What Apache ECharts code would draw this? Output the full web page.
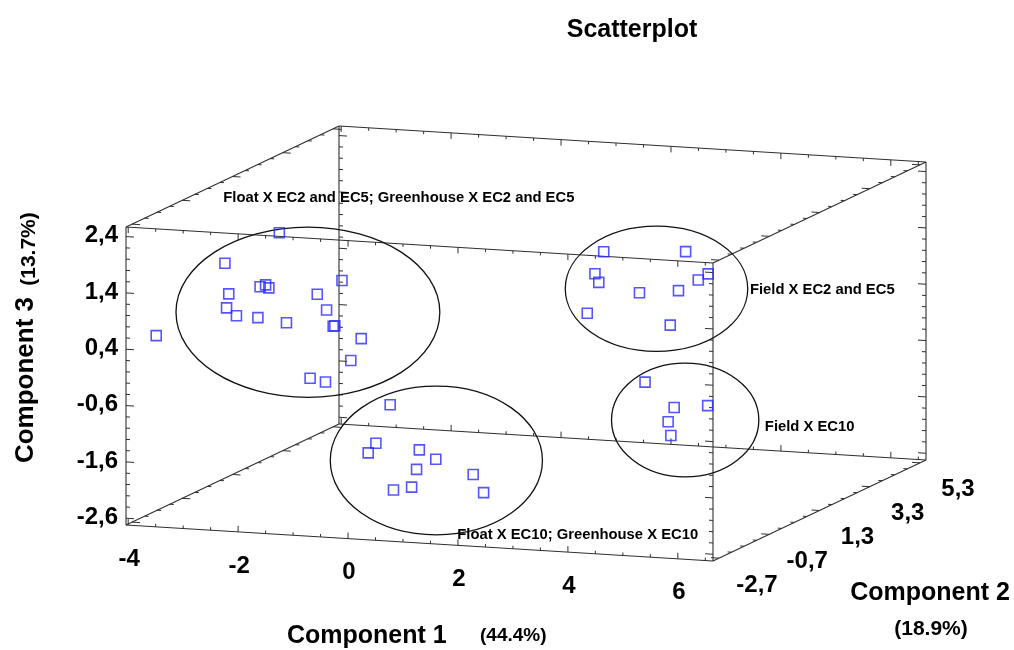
<!DOCTYPE html>
<html>
<head>
<meta charset="utf-8">
<script src="https://cdn.jsdelivr.net/npm/echarts@6/dist/echarts.min.js"></script>
<style>html,body{margin:0;padding:0;background:#fff}#chart{width:1014px;height:650px}</style>
</head>
<body>
<div id="chart"></div>
<script>
// ================= DATA =================
// axis ranges (box extent) and tick labels
const comp1Range = [-4.04, 6.64];
const comp2Range = [-2.94, 5.54];
const comp3Range = [-2.72, 2.57];
const comp1Ticks = [-4, -2, 0, 2, 4, 6];
const comp2Ticks = [-2.7, -0.7, 1.3, 3.3, 5.3];
const comp3Ticks = [-2.6, -1.6, -0.6, 0.4, 1.4, 2.4];
const comp1Step = [2, 0.5];   // major, minor
const comp2Step = [2, 0.5];
const comp3Step = [1, 0.2];

// points: [Component 1, Component 2, Component 3]
const floatGreenhouseEC2EC5 = [
  [-1.68, -2.0, 2.41], [-2.67, -2.0, 1.81], [-2.60, -2.0, 1.27], [-2.03, -2.0, 1.43],
  [-1.93, -2.0, 1.47], [-1.87, -2.0, 1.42], [-2.64, -2.0, 1.02], [-2.46, -2.0, 0.89],
  [-2.07, -2.0, 0.88], [-1.55, -2.0, 0.82], [-0.99, -2.0, 1.36], [-0.82, -2.0, 1.09],
  [-0.70, -2.0, 0.81], [-0.67, -2.0, 0.82], [-0.54, -2.0, 1.63], [-0.19, -2.0, 0.62],
  [-0.38, -2.0, 0.22], [-1.12, -2.0, -0.14], [-0.84, -2.0, -0.19], [-3.92, -2.0, 0.45]
];
const floatGreenhouseEC10 = [
  [-0.12, -1.0, -0.76], [-0.38, -1.0, -1.46], [-0.52, -1.0, -1.64], [0.41, -1.0, -1.53],
  [0.71, -1.0, -1.68], [0.36, -1.0, -1.88], [0.27, -1.0, -2.20], [-0.06, -1.0, -2.27],
  [1.39, -1.0, -1.91], [1.58, -1.0, -2.22]
];
const fieldEC2EC5 = [
  [3.08, 0.5, 1.83], [4.57, 0.5, 1.92], [2.92, 0.5, 1.43], [2.99, 0.5, 1.28],
  [3.73, 0.5, 1.14], [4.44, 0.5, 1.22], [4.80, 0.5, 1.43], [4.98, 0.5, 1.55],
  [2.78, 0.5, 0.72], [4.29, 0.5, 0.60]
];
const fieldEC10 = [
  [4.06, 0.0, -0.32], [4.59, 0.0, -0.74], [5.20, 0.0, -0.67], [4.48, 0.0, -1.00],
  [4.53, 0.0, -1.24]
];

// cluster ellipses: [c1, c2, c3, half-width in Component 1 units, half-height in Component 3 units]
const clusterEllipses = [
  [-1.16, -2.0, 1.03, 2.40, 1.51],
  [4.04, 0.5, 1.23, 1.66, 1.11],
  [4.79, 0.0, -0.95, 1.34, 1.01],
  [0.72, -1.0, -1.70, 1.93, 1.32]
];
const clusterNames = [
  'Float X EC2 and EC5; Greenhouse X EC2 and EC5',
  'Field X EC2 and EC5',
  'Field X EC10',
  'Float X EC10; Greenhouse X EC10'
];
const clusterLabelAnchors = [
  [-2.70, -2.0, 2.97],
  [5.74, 0.5, 1.31],
  [6.24, 0.0, -0.99],
  [1.10, -1.0, -3.00]
];

// ================= PROJECTION (oblique box) =================
const VEC = { c1: [587, -36], c2: [213, 101], c3: [0, 298], origin: [0, 36] };
const PLANE = { w: 800, h: 436 };
function norm(v, r) { return (v - r[0]) / (r[1] - r[0]); }
function project(c1, c2, c3) {
  const a = norm(c1, comp1Range), b = norm(c2, comp2Range), c = norm(c3, comp3Range);
  return [
    VEC.origin[0] + VEC.c1[0] * a + VEC.c2[0] * b + VEC.c3[0] * c,
    VEC.origin[1] + VEC.c1[1] * a + VEC.c2[1] * b + VEC.c3[1] * c
  ];
}
const P = p => project(p[0], p[1], p[2]);

// box edges
const R = [comp1Range, comp2Range, comp3Range];
const edges = [];
for (let axis = 0; axis < 3; axis++) {
  const o = [0, 1, 2].filter(k => k !== axis);
  for (let i = 0; i < 2; i++) for (let j = 0; j < 2; j++) {
    const s = [0, 0, 0], e = [0, 0, 0];
    s[axis] = R[axis][0]; e[axis] = R[axis][1];
    s[o[0]] = e[o[0]] = R[o[0]][i];
    s[o[1]] = e[o[1]] = R[o[1]][j];
    edges.push(P(s).concat(P(e)));
  }
}

// tick marks
function unit(v) { const l = Math.hypot(v[0], v[1]); return [v[0] / l, v[1] / l]; }
function tickValues(range, base, major, minor) {
  const out = [];
  let t = base + Math.ceil((range[0] - base) / minor - 1e-9) * minor;
  for (; t <= range[1] + 1e-9; t += minor) {
    const q = (t - base) / major;
    out.push([t, Math.abs(q - Math.round(q)) < 1e-6]);
  }
  return out;
}
const tickSegs = [];
const u1 = unit(VEC.c1), u3 = unit(VEC.c3);
tickValues(comp3Range, comp3Ticks[0], comp3Step[0], comp3Step[1]).forEach(([t, maj]) => {
  const len = maj ? 8 : 4;
  [0, 1].forEach(i => [0, 1].forEach(j => {
    const p = project(comp1Range[i], comp2Range[j], t);
    const d = i === 0 ? 1 : -1;
    tickSegs.push([p[0], p[1], p[0] + d * u1[0] * len, p[1] + d * u1[1] * len]);
  }));
});
tickValues(comp2Range, comp2Ticks[0], comp2Step[0], comp2Step[1]).forEach(([t, maj]) => {
  const len = maj ? 8 : 4;
  [0, 1].forEach(i => [0, 1].forEach(j => {
    const p = project(comp1Range[i], t, comp3Range[j]);
    const d = i === 0 ? 1 : -1;
    tickSegs.push([p[0], p[1], p[0] + d * u1[0] * len, p[1] + d * u1[1] * len]);
  }));
});
tickValues(comp1Range, comp1Ticks[0], comp1Step[0], comp1Step[1]).forEach(([t, maj]) => {
  const len = maj ? 6 : 3;
  [0, 1].forEach(i => [0, 1].forEach(j => {
    const p = project(t, comp2Range[i], comp3Range[j]);
    const d = j === 0 ? 1 : -1;
    tickSegs.push([p[0], p[1], p[0] + d * u3[0] * len, p[1] + d * u3[1] * len]);
  }));
});

// ================= CHART =================
const FONT = "'Liberation Sans', Arial, sans-serif";
const comma = v => v.toFixed(1).replace('.', ',');
const segSeries = (data, color, width, z) => ({
  type: 'custom', data, z, silent: true,
  encode: { x: [0, 2], y: [1, 3] },
  renderItem: (params, api) => {
    const a = api.coord([api.value(0), api.value(1)]);
    const b = api.coord([api.value(2), api.value(3)]);
    return { type: 'line', shape: { x1: a[0], y1: a[1], x2: b[0], y2: b[1] },
      style: { stroke: color, lineWidth: width } };
  }
});
// text labels anchored to projected data positions
const textSeries = (anchors, texts, font, align, offset) => ({
  type: 'custom', z: 6, silent: true,
  data: anchors,
  renderItem: (params, api) => {
    const c = api.coord([api.value(0), api.value(1)]);
    return { type: 'text', x: c[0] + offset[0], y: c[1] + offset[1],
      style: { text: texts[params.dataIndex], font: font, fill: '#000', align: align, verticalAlign: 'middle' } };
  }
});
const pointSeries = (name, arr) => ({
  name, type: 'scatter', data: arr.map(P), symbol: 'rect', symbolSize: 10, z: 5,
  itemStyle: { color: 'rgba(0,0,0,0)', borderColor: '#2a2aff', borderWidth: 1.6 }
});
const unitC1 = VEC.c1[0] / (comp1Range[1] - comp1Range[0]);
const unitC3 = VEC.c3[1] / (comp3Range[1] - comp3Range[0]);

const option = {
  animation: false,
  grid: { left: 126, top: 125, width: PLANE.w, height: PLANE.h, containLabel: false },
  xAxis: { type: 'value', min: 0, max: PLANE.w, show: false },
  yAxis: { type: 'value', min: 0, max: PLANE.h, show: false },
  graphic: [
    { type: 'text', x: 632, y: 30, style: { text: 'Scatterplot', font: 'bold 25px ' + FONT, fill: '#000', align: 'center', verticalAlign: 'middle' } },
    { type: 'text', x: 287, y: 636, style: { text: 'Component 1', font: 'bold 25px ' + FONT, fill: '#000', align: 'left', verticalAlign: 'middle' } },
    { type: 'text', x: 480, y: 636, style: { text: '(44.4%)', font: 'bold 19px ' + FONT, fill: '#000', align: 'left', verticalAlign: 'middle' } },
    { type: 'text', x: 930, y: 593, style: { text: 'Component 2', font: 'bold 25px ' + FONT, fill: '#000', align: 'center', verticalAlign: 'middle' } },
    { type: 'text', x: 931, y: 629, style: { text: '(18.9%)', font: 'bold 21px ' + FONT, fill: '#000', align: 'center', verticalAlign: 'middle' } },
    { type: 'text', x: 26, y: 380, rotation: Math.PI / 2, style: { text: 'Component 3', font: 'bold 26px ' + FONT, fill: '#000', align: 'center', verticalAlign: 'middle' } },
    { type: 'text', x: 29, y: 249, rotation: Math.PI / 2, style: { text: '(13.7%)', font: 'bold 21px ' + FONT, fill: '#000', align: 'center', verticalAlign: 'middle' } }
  ],
  series: [
    segSeries(edges, '#2e2e2e', 1.1, 1),
    segSeries(tickSegs, '#2e2e2e', 1, 1),
    {
      type: 'custom', z: 3, silent: true,
      data: clusterEllipses.map(e => project(e[0], e[1], e[2])),
      renderItem: (params, api) => {
        const e = clusterEllipses[params.dataIndex];
        const c = api.coord([api.value(0), api.value(1)]);
        const s = api.size([e[3] * unitC1, e[4] * unitC3]);
        return { type: 'ellipse', shape: { cx: c[0], cy: c[1], rx: s[0], ry: s[1] },
          style: { fill: 'none', stroke: '#111', lineWidth: 1.3 } };
      }
    },
    pointSeries('Float X EC2 and EC5; Greenhouse X EC2 and EC5', floatGreenhouseEC2EC5),
    pointSeries('Float X EC10; Greenhouse X EC10', floatGreenhouseEC10),
    pointSeries('Field X EC2 and EC5', fieldEC2EC5),
    pointSeries('Field X EC10', fieldEC10),
    textSeries(clusterLabelAnchors.map(P), clusterNames, 'bold 14.8px ' + FONT, 'left', [0, 0]),
    textSeries(comp3Ticks.map(t => project(comp1Range[0], comp2Range[0], t)), comp3Ticks.map(comma), 'bold 24px ' + FONT, 'right', [-8, -1]),
    textSeries(comp1Ticks.map(t => project(t, comp2Range[0], comp3Range[0])), comp1Ticks.map(String), 'bold 24px ' + FONT, 'center', [1, 34]),
    textSeries(comp2Ticks.map(t => project(comp1Range[1], t, comp3Range[0])), comp2Ticks.map(comma), 'bold 24px ' + FONT, 'center', [38, 27])
  ]
};
const chart = echarts.init(document.getElementById('chart'), null, { renderer: 'canvas' });
chart.setOption(option);
</script>
</body>
</html>
